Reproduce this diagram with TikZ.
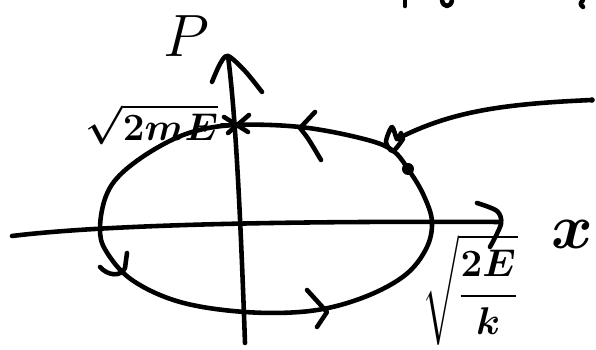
\RequirePackage{fix-cm}
\documentclass[tikz,border=0pt]{standalone}
\usepackage{amsmath}
\usetikzlibrary{calc}

\begin{document}
\begin{tikzpicture}[
   x=0.02cm,y=-0.02cm,
   pen/.style={line width=2.6pt,line cap=round,line join=round},
   lbl/.style={inner sep=0pt,font=\boldmath}]
  \useasboundingbox (0,0) rectangle (596,350);
  % axes
  \coordinate (pTop) at (228,56);
  \coordinate (pBot) at (245,343);
  \coordinate (xL) at (12,236);
  \coordinate (xR) at (499,222);
  \draw[pen] (pBot) .. controls (240,200) and (235,110) .. (pTop);
  \draw[pen] (xL) .. controls (110,224) and (300,221) .. (xR);
  \draw[pen] plot[smooth] coordinates {(212,82) (220,64) (228,56) (245,71) (262,92)};
  \draw[pen] plot[smooth] coordinates {(477,203) (497,211) (501,224) (490,247)};
  % orbit
  \draw[pen] plot[smooth cycle,tension=0.6] coordinates {
    (236,125) (300,127) (360,138) (392,150) (410,172) (424,196) (432,222)
    (426,249) (404,276) (362,298) (310,311) (245,312) (180,302) (132,280)
    (106,251) (100,228) (106,196) (122,173) (155,149) (192,132)};
  \draw[pen] (315,112) -- (300,128) .. controls (308,138) .. (321,160);
  \draw[pen] (127,253) -- (125,268) .. controls (121,277) and (108,276) .. (100,267);
  \draw[pen] (307,290) -- (327,312) -- (317,327);
  % marks on the orbit
  \draw[pen] (224,117) -- (248,132);
  \draw[pen] (249,115) -- (228,133);
  \draw[pen] (222,125) -- (250,125);
  \draw[pen] plot[smooth] coordinates {(403,139) (393,151) (386,142) (392,127) (397,139) (401,133)};
  \fill (408,169) circle (6);
  % tag line
  \coordinate (tagEnd) at (592,100);
  \draw[pen] (397,139) .. controls (450,112) and (500,104) .. (tagEnd);
  \fill (tagEnd) circle (2.8);
  % cut-off strokes at the top
  \draw[pen] (405,0) -- (405,6);
  \draw[pen] (442,0) .. controls (443,8) and (451,8) .. (452,0);
  \draw[pen] (583,0) .. controls (580,4) .. (583,7);
  % labels
  \node[lbl,font=\fontsize{34}{40}\selectfont] (pLbl) at (186,36) {$P$};
  \node[lbl,font=\boldmath\fontsize{22}{26}\selectfont] (pMax) at (152,124) {$\sqrt{2mE}$};
  \node[lbl,font=\boldmath\fontsize{36}{40}\selectfont] (xLbl) at (572,234) {$x$};
  \node[lbl,font=\boldmath\fontsize{22}{26}\selectfont] (xMax) at (470,290) {$\sqrt{\dfrac{2E}{k}}$};
\end{tikzpicture}
\end{document}
